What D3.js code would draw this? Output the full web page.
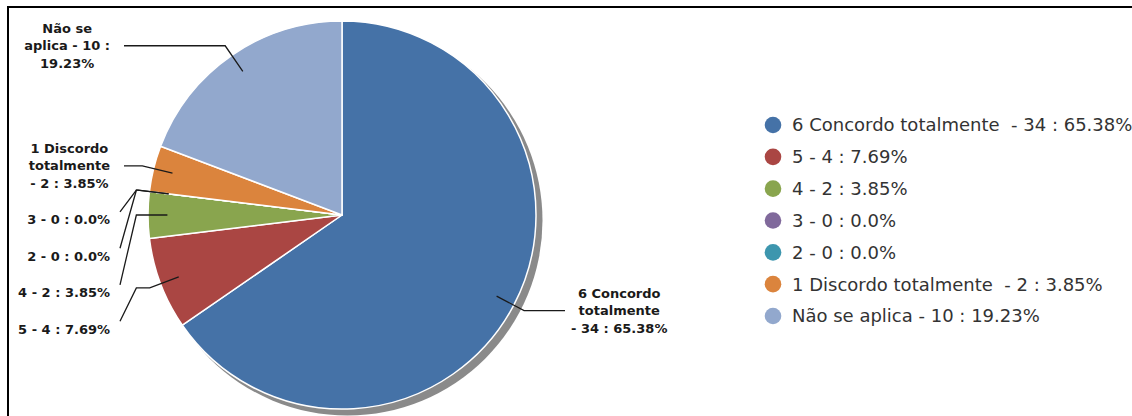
<!DOCTYPE html>
<html>
<head>
<meta charset="utf-8">
<script src="https://cdn.jsdelivr.net/npm/d3@7"></script>
<style>
  body { margin: 0; background: #fff; }
  .pie_label { font-family: "DejaVu Sans", sans-serif; font-weight: bold; font-size: 13px; fill: #1a1a1a; }
  .legend_label { font-family: "DejaVu Sans", sans-serif; font-size: 18px; fill: #333; white-space: pre; }
</style>
</head>
<body>
<div id="graph"></div>
<script>
  // slices, clockwise from 12 o'clock
  const names = ["6 Concordo totalmente ", "5", "4", "3", "2", "1 Discordo totalmente ", "Não se aplica"];
  const counts = [34, 4, 2, 0, 0, 2, 10];
  const percents = ["65.38%", "7.69%", "3.85%", "0.0%", "0.0%", "3.85%", "19.23%"];
  const colors = ["#4572A7", "#AA4643", "#89A54E", "#80699B", "#3D96AE", "#DB843D", "#92A8CD"];
  // wrapped text of the labels next to the pie
  const pie_label_lines = [
    ["6 Concordo", "totalmente", "- 34 : 65.38%"],
    ["5 - 4 : 7.69%"],
    ["4 - 2 : 3.85%"],
    ["3 - 0 : 0.0%"],
    ["2 - 0 : 0.0%"],
    ["1 Discordo", "totalmente", "- 2 : 3.85%"],
    ["Não se", "aplica - 10 :", "19.23%"]
  ];

  const width = 1132;
  const height = 416;
  const cx = 342, cy = 215, radius = 194;
  const line_h = 17.5;
  const label_gap = 19;

  let svg = d3.select("#graph").append("svg")
    .attr("width", width)
    .attr("height", height);

  // frame, only top and left edges fall inside the picture
  svg.append("rect")
    .attr("x", 8).attr("y", 7)
    .attr("width", 1300).attr("height", 600)
    .attr("fill", "none")
    .attr("stroke", "#000")
    .attr("stroke-width", 2);

  const rows = names.map((n, i) => ({
    name: n, count: counts[i], pct: percents[i], color: colors[i], lines: pie_label_lines[i], index: i
  }));

  const pie = d3.pie().sort(null).value(d => d.count);
  const arcs = pie(rows);
  const arc = d3.arc().innerRadius(0).outerRadius(radius);
  const inner_arc = d3.arc().innerRadius(radius * 0.9).outerRadius(radius * 0.9);
  const outer_arc = d3.arc().innerRadius(radius * 1.06).outerRadius(radius * 1.06);

  let g = svg.append("g").attr("transform", `translate(${cx}, ${cy})`);

  // shadow
  g.append("circle")
    .attr("cx", 5.5).attr("cy", 5.5)
    .attr("r", radius + 1)
    .attr("fill", "#8a8a8a");

  g.selectAll("path.slice")
    .data(arcs)
    .enter()
    .append("path")
    .attr("class", "slice")
    .attr("d", arc)
    .attr("fill", d => d.data.color)
    .attr("stroke", "#fff")
    .attr("stroke-width", 1.5)
    .attr("stroke-linejoin", "round");

  // label layout: push labels down on the left side so they do not overlap
  const items = arcs.map(d => {
    const mid = (d.startAngle + d.endAngle) / 2;
    return {
      d: d,
      left: mid > Math.PI,
      inner: inner_arc.centroid(d),
      outer: outer_arc.centroid(d)
    };
  });

  let left_items = items.filter(it => it.left).sort((a, b) => a.outer[1] - b.outer[1]);
  let prev_bottom = -Infinity;
  left_items.forEach(it => {
    const half = it.d.data.lines.length * line_h / 2;
    it.y = Math.max(it.outer[1], prev_bottom + label_gap + half);
    it.moved = it.y - it.outer[1] > 1;
    prev_bottom = it.y + half;
  });
  items.filter(it => !it.left).forEach(it => { it.y = it.outer[1]; it.moved = false; });

  let labels = svg.append("g").attr("transform", `translate(${cx}, ${cy})`);
  const box_left_right = 110 - cx;   // right edge of left label boxes
  const box_right_left = 571 - cx;   // left edge of right label boxes
  const elbow_x = -radius * 1.06;

  items.forEach(it => {
    let pts = [it.inner, it.outer];
    if (it.left) {
      if (it.moved) {
        pts.push([Math.min(it.outer[0], elbow_x), it.outer[1]]);
        pts.push([box_left_right + 10, it.y - 8]);
      } else {
        pts.push([box_left_right + 14, it.y]);
      }
    } else {
      pts.push([box_right_left - 6, it.y]);
    }
    labels.append("path")
      .attr("d", d3.line()(pts))
      .attr("fill", "none")
      .attr("stroke", "#1a1a1a")
      .attr("stroke-width", 1.3);

    let t = labels.append("text")
      .attr("class", "pie_label")
      .style("text-anchor", "middle");
    const n = it.d.data.lines.length;
    it.d.data.lines.forEach((s, k) => {
      t.append("tspan")
        .attr("y", it.y + (k - (n - 1) / 2) * line_h)
        .attr("dy", "0.36em")
        .text(s);
    });
    const w = d3.max(t.selectAll("tspan").nodes(), nd => nd.getComputedTextLength());
    const center = it.left ? box_left_right - w / 2 : box_right_left + w / 2;
    t.selectAll("tspan").attr("x", center);
  });

  // legend
  const legend_y = d3.scalePoint()
    .domain(d3.range(rows.length))
    .range([125, 316]);

  let legend = svg.append("g");
  let entries = legend.selectAll("g")
    .data(rows)
    .enter()
    .append("g")
    .attr("transform", d => `translate(773, ${legend_y(d.index)})`);
  entries.append("circle")
    .attr("r", 8.3)
    .attr("fill", d => d.color);
  entries.append("text")
    .attr("class", "legend_label")
    .attr("x", 19)
    .attr("dy", "0.36em")
    .text(d => d.name + " - " + d.count + " : " + d.pct);
</script>
</body>
</html>
